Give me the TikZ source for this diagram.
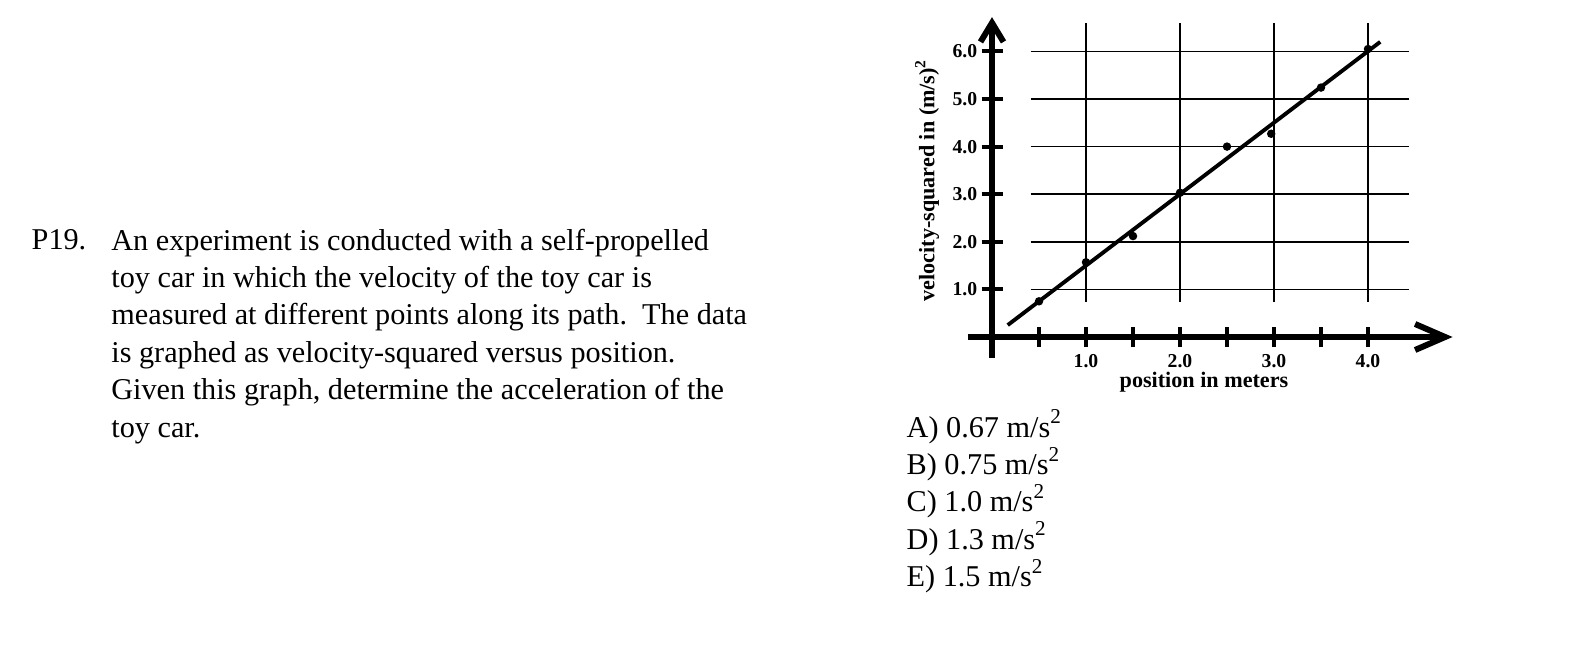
\documentclass[tikz,border=0pt]{standalone}
\usepackage{fontspec}
\setmainfont{Liberation Serif}
\usetikzlibrary{positioning,arrows.meta}

\begin{document}
\begin{tikzpicture}[
  mytext/.style={inner sep=0pt,align=left,font=\fontsize{8.6}{10.64}\selectfont},
  mylabel/.style={inner sep=0pt,font=\bfseries\fontsize{6.3}{7}\selectfont},
  myticklabel/.style={inner sep=0pt,font=\bfseries\fontsize{5.6}{6}\selectfont},
  mygrid/.style={line width=0.4pt},
  myaxis/.style={line width=1.7pt},
  mytick/.style={line width=1.1pt},
  mydot/.style={circle,fill=black,inner sep=0pt,minimum size=0.85mm}
]
\useasboundingbox (0,0) rectangle (15.9,6.46);
\node[mytext,anchor=base west] (num) at (0.31,3.96) {P19.};
\node[mytext,anchor=base west] (question) at (1.107,2.09) {An experiment is conducted with a self-propelled\\
toy car in which the velocity of the toy car is\\
measured at different points along its path.\ \ The data\\
is graphed as velocity-squared versus position.\\
Given this graph, determine the acceleration of the\\
toy car.};
\node[mytext,anchor=base west] (answers) at (9.06,0.593) {A) 0.67 m/s\textsuperscript{2}\\
B) 0.75 m/s\textsuperscript{2}\\
C) 1.0 m/s\textsuperscript{2}\\
D) 1.3 m/s\textsuperscript{2}\\
E) 1.5 m/s\textsuperscript{2}};

\begin{scope}[shift={(9.92,3.09)},x=0.94cm,y=0.476cm]
% grid
\foreach \i in {1,...,6}
  \draw[mygrid] (0.41,\i) -- (4.44,\i);
\foreach \i in {1,...,4}
  \draw[mygrid] (\i,0.74) -- (\i,6.6);
% axes
\coordinate (xstart) at (-0.26,0);
\coordinate (xend) at (4.9,0);
\coordinate (ystart) at (0,-0.44);
\coordinate (yend) at (0,6.72);
\draw[myaxis,-{Straight Barb[length=3mm,width=2.6mm]}] (xstart) -- (xend);
\draw[myaxis,-{Straight Barb[length=1.9mm,width=2.3mm]}] (ystart) -- (yend);
\foreach \i in {0.5,1.0,...,4.0}
  \draw[mytick] (\i,0) ++(0,-1mm) -- ++(0,2mm);
\foreach \i in {1,...,6}
  \draw[mytick] (0,\i) ++(-1.05mm,0) -- ++(2.1mm,0);
% labels
\foreach \i in {1,...,4}
  \node[myticklabel,anchor=base] (x\i) at (\i,-0.637) {\i.0};
\foreach \i in {1,...,6}
  \node[myticklabel,anchor=east] (y\i) at (-0.15,\i) {\i.0};
\node[mylabel,anchor=base] (xlabel) at (2.255,-1.057) {position in meters};
\node[mylabel,rotate=90] (ylabel) at (-0.69,3.3) {velocity-squared in (m/s)\textsuperscript{2}};
% best fit and data
\coordinate (fitA) at (0.167,0.25);
\coordinate (fitB) at (4.13,6.2);
\draw[mytick] (fitA) -- (fitB);
\foreach \x/\y [count=\k] in {0.5/0.75,1.0/1.57,1.5/2.12,2.0/3.03,2.5/4.0,2.97/4.27,3.5/5.24,4.0/6.05}
  \node[mydot] (pt\k) at (\x,\y) {};
\end{scope}
\end{tikzpicture}
\end{document}
